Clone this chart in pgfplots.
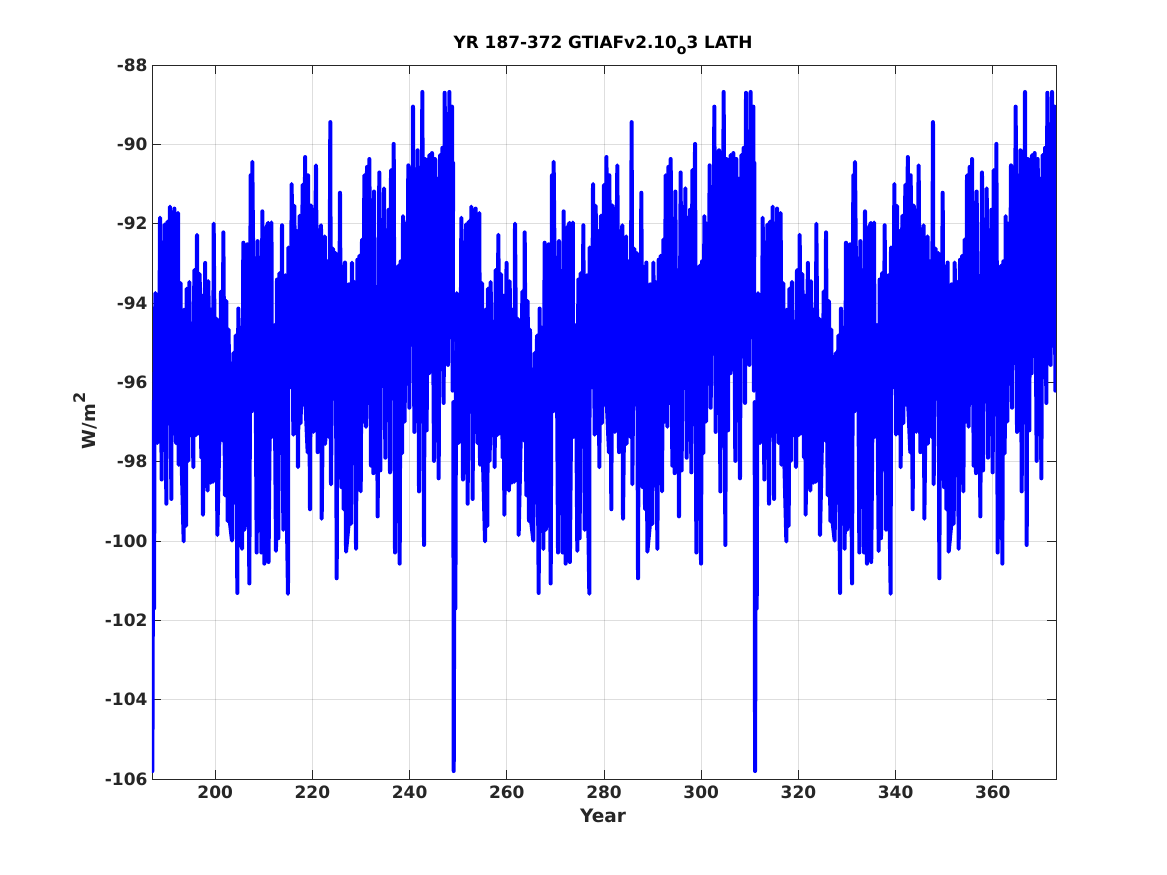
\documentclass[border=0pt]{standalone}
\usepackage{fontspec}
\setmainfont{DejaVu Sans}
\usepackage{pgfplots}
\usepackage{pgfplotstable}
\pgfplotsset{compat=1.18}
\definecolor{axgray}{gray}{0.15}
\pgfplotstableread{
t v
187.00 -96.50
187.08 -105.80
187.17 -101.70
187.42 -101.70
187.55 -96.00
187.69 -93.75
187.90 -96.00
188.10 -97.53
188.30 -94.72
188.44 -96.90
188.65 -91.85
188.99 -98.45
189.13 -92.48
189.47 -95.86
189.61 -92.02
189.95 -99.06
190.16 -91.95
190.50 -95.91
190.70 -91.57
190.98 -98.94
191.12 -92.00
191.53 -97.25
191.60 -91.62
191.94 -97.53
192.35 -91.73
192.49 -98.08
192.90 -93.50
192.97 -97.38
193.52 -100.01
193.58 -94.17
194.00 -99.62
194.13 -93.64
194.48 -97.98
194.68 -93.47
194.96 -97.33
195.30 -94.51
195.50 -98.14
195.71 -93.17
196.05 -97.33
196.26 -92.28
196.53 -97.29
196.81 -93.27
197.15 -97.90
197.36 -93.82
197.49 -99.34
197.95 -92.99
198.00 -97.72
198.45 -98.73
198.59 -93.45
199.07 -98.53
199.14 -94.17
199.55 -98.51
199.69 -92.00
199.96 -96.34
200.31 -94.40
200.44 -99.85
200.99 -96.68
201.20 -93.71
201.54 -97.47
201.68 -92.22
202.02 -98.85
202.29 -93.95
202.57 -99.50
202.77 -94.67
203.05 -99.55
203.46 -99.99
203.73 -95.26
203.94 -99.03
204.22 -94.82
204.56 -101.31
204.76 -94.14
204.97 -98.73
205.24 -94.63
205.52 -100.20
205.79 -92.48
206.00 -99.72
206.48 -99.28
206.62 -92.52
207.03 -101.07
207.30 -90.78
207.51 -96.73
207.64 -90.44
207.99 -95.20
208.19 -92.87
208.54 -100.29
208.74 -92.44
209.02 -98.12
209.22 -93.60
209.50 -100.29
209.70 -91.69
210.11 -100.57
210.32 -92.19
210.90 -91.98
210.98 -100.53
211.58 -91.97
211.66 -97.38
211.97 -97.29
212.17 -94.56
212.51 -100.25
212.72 -93.41
212.99 -99.93
213.20 -93.25
213.54 -96.99
213.75 -92.04
214.02 -99.72
214.46 -93.30
214.54 -97.68
214.98 -101.33
215.05 -92.60
215.53 -96.12
215.74 -91.00
216.08 -97.32
216.29 -91.55
216.63 -97.29
216.84 -92.19
217.04 -98.14
217.38 -91.80
217.59 -97.03
218.00 -91.02
218.14 -96.56
218.51 -90.32
218.59 -96.56
219.03 -97.77
219.10 -90.78
219.51 -99.20
219.72 -91.54
220.15 -92.13
220.23 -97.25
220.74 -90.53
221.09 -97.76
221.22 -92.91
221.77 -92.04
221.91 -99.44
222.56 -92.32
222.64 -97.55
223.08 -92.95
223.42 -97.38
223.69 -89.44
223.83 -98.57
224.24 -92.63
224.52 -96.42
224.79 -92.74
225.00 -100.94
225.20 -93.13
225.48 -96.08
225.68 -91.22
225.96 -98.64
226.16 -93.09
226.44 -99.20
226.71 -92.98
226.92 -100.27
227.47 -99.55
227.53 -93.53
227.95 -99.57
228.15 -92.98
228.50 -96.34
228.63 -93.47
228.98 -100.20
229.25 -92.91
229.46 -97.86
229.66 -92.81
229.94 -98.75
230.21 -92.40
230.48 -96.99
230.69 -90.78
231.03 -97.12
231.24 -90.57
231.51 -96.52
231.72 -90.37
232.06 -98.10
232.20 -92.63
232.54 -98.29
232.68 -91.19
232.95 -97.60
233.23 -93.95
233.43 -99.38
233.77 -90.71
233.98 -98.22
234.19 -91.91
234.46 -96.08
234.74 -91.11
235.01 -97.90
235.22 -92.17
235.49 -96.73
235.70 -91.65
235.97 -98.27
236.18 -90.65
236.52 -95.65
236.73 -89.99
237.00 -100.29
237.21 -94.82
237.41 -96.08
237.69 -93.06
237.96 -100.57
238.17 -92.95
238.44 -97.79
238.65 -91.81
238.99 -96.99
239.13 -92.00
239.47 -96.03
239.74 -90.53
239.95 -96.64
240.22 -91.13
240.50 -95.01
240.70 -89.05
240.98 -97.25
241.11 -91.69
241.46 -96.77
241.66 -90.15
241.94 -98.75
242.14 -91.43
242.42 -94.21
242.62 -88.68
242.97 -100.10
243.17 -90.37
243.52 -97.21
243.65 -90.39
244.00 -95.77
244.06 -90.27
244.54 -93.52
244.61 -90.22
245.02 -97.98
245.23 -90.37
245.50 -95.26
245.71 -90.87
245.98 -98.42
246.26 -90.27
246.53 -95.16
246.74 -90.09
247.01 -96.52
247.22 -88.70
247.42 -93.86
247.70 -89.96
247.90 -95.56
248.18 -88.68
248.38 -94.86
248.73 -89.05
248.86 -96.21
248.95 -90.47
}\cycledata
\begin{document}
\begin{tikzpicture}[x=1pt,y=1pt]
\path[use as bounding box] (-152,-96) rectangle (1015,779);
\begin{axis}[
  at={(0pt,0pt)}, anchor=south west,
  scale only axis, width=904pt, height=714pt,
  xmin=187, xmax=373, ymin=-106, ymax=-88,
  xtick={200,220,...,360},
  ytick={-106,-104,...,-88},
  yticklabels={-106,-104,-102,-100,-98,-96,-94,-92,-90,-88},
  tick align=inside, tick pos=both,
  major tick length=9pt,
  grid=major,
  major grid style={black, opacity=0.13, line width=0.8pt},
  tick style={axgray, line width=0.8pt},
  axis line style={axgray, line width=0.8pt},
  /pgf/number format/assume math mode=true,
  /pgf/number format/1000 sep={},
  tick label style={font=\fontsize{17}{20}\selectfont\bfseries, text=axgray},
  every x tick label/.append style={yshift=-3pt},
  every y tick label/.append style={xshift=-1pt},
  clip=true,
]
\addplot[blue, line width=4pt, line join=round, line cap=round, no markers] table[x=t, y=v] {\cycledata};
\addplot[blue, line width=4pt, line join=round, line cap=round, no markers] table[x expr=\thisrow{t}+62, y=v] {\cycledata};
\addplot[blue, line width=4pt, line join=round, line cap=round, no markers] table[x expr=\thisrow{t}+124, y=v] {\cycledata};
\end{axis}
\node[font=\fontsize{16.9}{18}\selectfont\bfseries, anchor=base] at (451,730) {YR 187-372 GTIAFv2.10\raisebox{-0.6ex}{\fontsize{14}{14}\selectfont o}3 LATH};
\node[font=\fontsize{18.5}{20}\selectfont\bfseries, text=axgray, anchor=base] at (451,-43) {Year};
\node[font=\fontsize{18}{20}\selectfont\bfseries, text=axgray, rotate=90, anchor=base] at (-56,358) {W/m\raisebox{1.1ex}{\fontsize{16}{16}\selectfont 2}};
\end{tikzpicture}
\end{document}
